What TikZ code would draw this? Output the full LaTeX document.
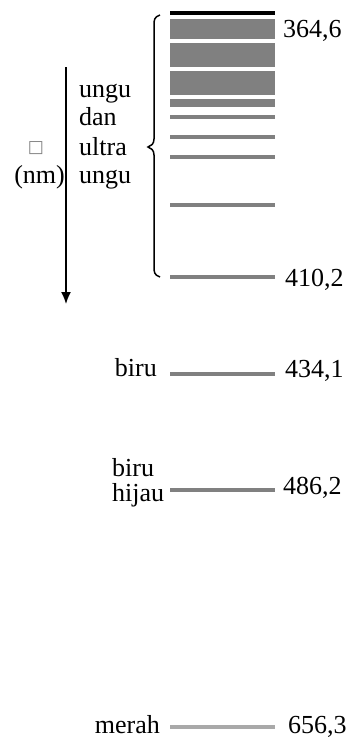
\documentclass[tikz,border=0pt]{standalone}
\usepackage{fontspec}
\setmainfont{Liberation Serif}
\newfontfamily\symfont{DejaVu Sans}
\usetikzlibrary{arrows.meta}
\definecolor{lgray}{HTML}{808080}
\definecolor{rgray}{HTML}{A9A9A9}
\begin{document}
\begin{tikzpicture}[x=1pt,y=-1pt,
  lbl/.style={inner sep=0pt,font=\fontsize{26}{28}\selectfont},
  spec/.style={draw=lgray,line width=4pt},
  band/.style={fill=lgray,draw=none}]
\useasboundingbox (0,0) rectangle (354,739);
% top black line
\draw[line width=4pt] (170,13) -- (275,13);
% bands
\fill[band] (170,19) rectangle (275,39);
\fill[band] (170,43) rectangle (275,67);
\fill[band] (170,71) rectangle (275,95);
\fill[band] (170,99) rectangle (275,107);
\draw[spec] (170,117) -- (275,117);
\draw[spec] (170,137) -- (275,137);
\draw[spec] (170,157) -- (275,157);
\draw[spec] (170,205) -- (275,205);
\draw[spec] (170,277) -- (275,277);
\draw[spec] (170,374) -- (275,374);
\draw[spec] (170,490) -- (275,490);
\draw[draw=rgray,line width=4pt] (170,726.5) -- (275,726.5);
% brace
\draw[line width=1.5pt] (160,15) .. controls (154,17) and (154,20) .. (154,26)
  -- (154,139) .. controls (154,144) and (151,146) .. (148,147)
  .. controls (151,148) and (154,150) .. (154,155)
  -- (154,266) .. controls (154,272) and (154,275) .. (160,277);
% arrow
\coordinate (atop) at (66,67);
\coordinate (abot) at (66,304);
\draw[line width=1.5pt,-{Latex[length=12pt,width=10pt]}] (atop) -- (abot);
% right labels
\node[lbl,anchor=base west] (v1) at (283,37) {364,6};
\node[lbl,anchor=base west] (v2) at (285,286) {410,2};
\node[lbl,anchor=base west] (v3) at (285,377) {434,1};
\node[lbl,anchor=base west] (v4) at (283,494) {486,2};
\node[lbl,anchor=base west] (v5) at (288,733) {656,3};
% left labels
\node[lbl,anchor=base west] (u1) at (79,97) {ungu};
\node[lbl,anchor=base west] (u2) at (79,125) {dan};
\node[lbl,anchor=base west] (u3) at (79,155) {ultra};
\node[lbl,anchor=base west] (u4) at (79,183) {ungu};
\node[lbl,anchor=base east] (nm) at (65,183) {(nm)};
\node[inner sep=0pt,text=lgray,font=\symfont\fontsize{17}{17}\selectfont] (lam) at (36,148) {□};
\node[lbl,anchor=base east] (b1) at (157,376) {biru};
\node[lbl,anchor=base west] (b2) at (112,476) {biru};
\node[lbl,anchor=base west] (b3) at (112,501) {hijau};
\node[lbl,anchor=base east] (m) at (160,733) {merah};
\end{tikzpicture}
\end{document}
